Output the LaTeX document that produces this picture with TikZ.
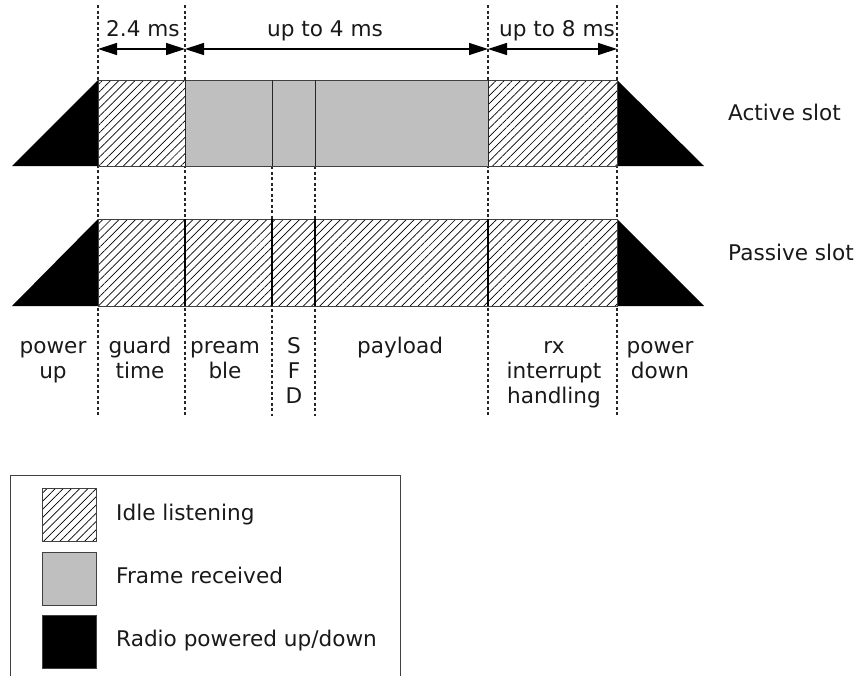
\documentclass[tikz,border=0pt]{standalone}
\usepackage{fontspec}
\setmainfont{DejaVu Sans}
\usetikzlibrary{patterns.meta,arrows.meta}
\newcommand{\stk}[1]{\setlength{\tabcolsep}{0pt}\begin{tabular}[t]{c}#1\end{tabular}}
\begin{document}
\begin{tikzpicture}[x=1pt,y=-1pt,
  txt/.style={font=\fontsize{21.6}{25}\selectfont, inner sep=0pt, anchor=base, text=black!90},
  hatch/.style={pattern={Lines[angle=45,distance=5.8pt,line width=0.7pt]}},
  boxline/.style={draw=black!75, line width=1pt},
  gray/.style={fill=black!25},
  septhin/.style={draw=black!85, line width=1pt},
  septhick/.style={draw=black, line width=1.6pt},
  vdash/.style={draw=black!85, line width=1.3pt, dash pattern=on 3pt off 2.5pt},
  dimarrow/.style={line width=1.2pt, {Triangle[length=19pt,width=12pt]}-{Triangle[length=19pt,width=12pt]}},
  ramp/.style={fill=black}
]
\useasboundingbox (0,0) rectangle (856,675);

% dashed guide lines
\draw[vdash] (98,5) -- (98,416);
\draw[vdash] (185,5) -- (185,416);
\draw[vdash] (272,166) -- (272,416);
\draw[vdash] (315,166) -- (315,416);
\draw[vdash] (488,5) -- (488,416);
\draw[vdash] (617,5) -- (617,416);

% dimension arrows
\coordinate (d0) at (98,49);
\coordinate (d1) at (185,49);
\coordinate (d2) at (488,49);
\coordinate (d3) at (617,49);
\draw[dimarrow] (d0) -- (d1);
\draw[dimarrow] (d1) -- (d2);
\draw[dimarrow] (d2) -- (d3);
\node[txt] (t24) at (143,36) {2.4 ms};
\node[txt] (t4) at (325,36) {up to 4 ms};
\node[txt] (t8) at (557,36) {up to 8 ms};

% active slot
\fill[ramp] (12,166) -- (98,80) -- (98,166) -- cycle;
\fill[ramp] (617,80) -- (704,166) -- (617,166) -- cycle;
\fill[white] (98,80) rectangle (185,166);
\path[hatch] (98,80) rectangle (185,166);
\path[gray] (185,80) rectangle (488,166);
\fill[white] (488,80) rectangle (617,166);
\path[hatch] (488,80) rectangle (617,166);
\draw[boxline] (98,80) rectangle (617,166);
\draw[septhin] (185,80) -- (185,166);
\draw[septhin] (272,80) -- (272,166);
\draw[septhin] (315,80) -- (315,166);
\draw[septhin] (488,80) -- (488,166);
\node[txt, anchor=base west] (act) at (728,120) {Active slot};

% passive slot
\fill[ramp] (12,306) -- (98,219) -- (98,306) -- cycle;
\fill[ramp] (617,219) -- (704,306) -- (617,306) -- cycle;
\fill[white] (98,219) rectangle (617,306);
\path[hatch] (98,219) rectangle (617,306);
\draw[boxline] (98,219) rectangle (617,306);
\draw[septhick] (185,219) -- (185,306);
\draw[septhick] (272,219) -- (272,306);
\draw[septhick] (315,219) -- (315,306);
\draw[septhick] (488,219) -- (488,306);
\node[txt, anchor=base west] (pas) at (728,260) {Passive slot};

% phase labels
\node[txt] (l1) at (53,353) {\stk{power\\up}};
\node[txt] (l2) at (140,353) {\stk{guard\\time}};
\node[txt] (l3) at (225,353) {\stk{pream\\ble}};
\node[txt] (l4) at (294,353) {\stk{S\\F\\D}};
\node[txt] (l5) at (400,353) {payload};
\node[txt] (l6) at (554,353) {\stk{rx\\interrupt\\handling}};
\node[txt] (l7) at (660,353) {\stk{power\\down}};

% legend
\draw[draw=black!75, line width=1pt] (10,676) -- (10,475) -- (400,475) -- (400,676);
\fill[white] (42,488) rectangle (96,541);
\path[hatch] (42,488) rectangle (96,541);
\draw[boxline] (42,488) rectangle (96,541);
\path[gray, boxline] (42,552) rectangle (96,605);
\path[fill=black, boxline] (42,615) rectangle (96,668);
\node[txt, anchor=base west] (g1) at (116,520) {Idle listening};
\node[txt, anchor=base west] (g2) at (116,583) {Frame received};
\node[txt, anchor=base west] (g3) at (116,646) {Radio powered up/down};
\end{tikzpicture}
\end{document}
